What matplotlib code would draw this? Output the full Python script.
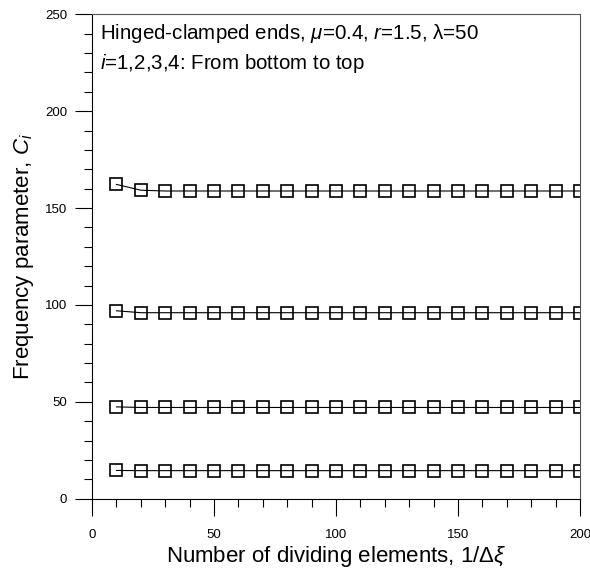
import numpy as np
import matplotlib
matplotlib.use("Agg")
import matplotlib.pyplot as plt
from matplotlib.ticker import MultipleLocator

plt.rcParams['font.family'] = ['Liberation Sans', 'DejaVu Sans']
plt.rcParams['mathtext.fontset'] = 'custom'
plt.rcParams['mathtext.rm'] = 'Liberation Sans'
plt.rcParams['mathtext.it'] = 'Liberation Sans:italic'

# number of dividing elements
n_elem = [10, 20, 30, 40, 50, 60, 70, 80, 90, 100,
          110, 120, 130, 140, 150, 160, 170, 180, 190, 200]

# frequency parameters C_i, i = 1..4
c1 = [14.6] + [14.5] * 19
c2 = [47.4] + [47.1] * 19
c3 = [97.0] + [96.0] * 19
c4 = [162.2, 159.2] + [158.8] * 18

fig = plt.figure(figsize=(5.9, 5.7), dpi=100)
ax = fig.add_axes([0.156, 0.125, 0.827, 0.85])

for c in [c1, c2, c3, c4]:
    ax.plot(n_elem, c, color='black', lw=0.8, marker='s', ms=8,
            mfc='none', mec='black', mew=1.2)

ax.set_xlim(0, 200)
ax.set_ylim(0, 250)
ax.xaxis.set_major_locator(MultipleLocator(50))
ax.xaxis.set_minor_locator(MultipleLocator(10))
ax.yaxis.set_major_locator(MultipleLocator(50))
ax.yaxis.set_minor_locator(MultipleLocator(10))
ax.tick_params(which='major', direction='out', length=12, width=0.8,
               labelsize=9.5, top=False, right=False)
ax.tick_params(which='minor', direction='out', length=6, width=0.8,
               top=False, right=False)
ax.tick_params(axis='x', which='major', pad=10)
ax.tick_params(axis='y', which='major', pad=6)
for s in ax.spines.values():
    s.set_linewidth(0.8)
ax.spines['top'].set_color('#555555')
ax.spines['right'].set_color('#555555')

ax.set_xlabel(r'Number of dividing elements, 1/$\Delta\xi$', fontsize=16, labelpad=2)
ax.set_ylabel(r'Frequency parameter, $C_i$', fontsize=16, labelpad=6)

ax.text(0.016, 0.983,
        'Hinged-clamped ends, $\\mu$=0.4, $r$=1.5, \u03bb=50\n$i$=1,2,3,4: From bottom to top',
        transform=ax.transAxes, ha='left', va='top', fontsize=14.8, linespacing=1.4)

fig.savefig('out.png', dpi=100)
